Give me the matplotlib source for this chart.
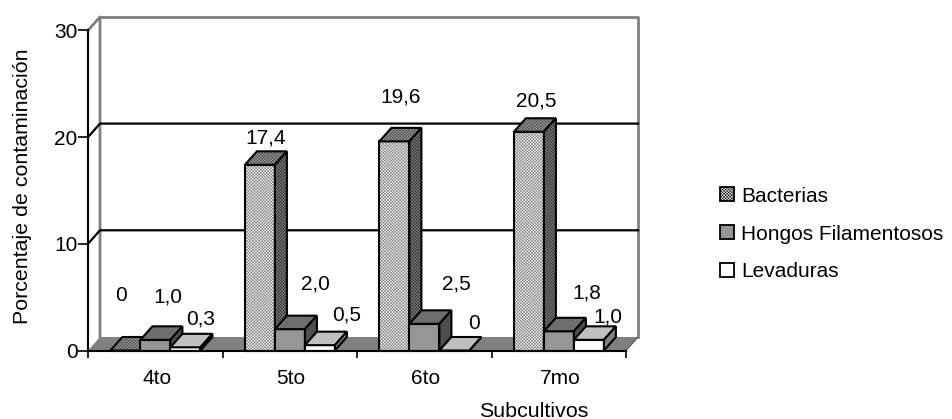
import matplotlib
matplotlib.use('Agg')
import matplotlib.pyplot as plt
from matplotlib.patches import Polygon, Patch

categories = ["4to", "5to", "6to", "7mo"]
series_names = ["Bacterias", "Hongos Filamentosos", "Levaduras"]
bacterias = [0, 17.4, 19.6, 20.5]
hongos = [1.0, 2.0, 2.5, 1.8]
levaduras = [0.3, 0.5, 0, 1.0]
yticks = [0, 10, 20, 30]

# label nudges from the top of each bar, in pixels (placed by hand in the original)
label_nudge = [
    [(-4, 55), (12, 43), (15, 28)],
    [(6, 27), (26, 45), (27, 30)],
    [(6, 44), (32, 40), (20, 27)],
    [(7, 31), (28, 38), (19, 23)],
]

plt.rcParams['font.family'] = ['Liberation Sans', 'DejaVu Sans']
plt.rcParams['hatch.linewidth'] = 0.35

W, H = 952, 419
CAT_PX = 134.5
UNIT_PX = 10.67
DX = 12 / CAT_PX        # 3d depth in data units
DY = 13.5 / UNIT_PX
BAR_W = 30 / CAT_PX
GAP = 22.4 / CAT_PX
FS = 15

fig = plt.figure(figsize=(W / 100, H / 100), dpi=100)
ax = fig.add_axes([88 / W, (H - 350.5) / H, (CAT_PX * 4 + 12) / W, (30 * UNIT_PX + 13.5) / H])
ax.set_xlim(0, 4 + DX)
ax.set_ylim(0, 30 + DY)
ax.patch.set_visible(False)

# walls and floor
ax.add_patch(Polygon([(0, 0), (4, 0), (4 + DX, DY), (DX, DY)], fc="#808080", ec="none", zorder=1))
ax.plot([0, DX, DX], [30, 30 + DY, DY], color="#808080", lw=2, zorder=1, clip_on=False)
ax.plot([DX, 4 + DX, 4 + DX], [30 + DY, 30 + DY, DY], color="#808080", lw=2, zorder=1, clip_on=False)
ax.plot([4, 4 + DX], [0, DY], color="#606060", lw=1, zorder=1)
for v in yticks[1:3]:
    ax.plot([0, DX, 4 + DX], [v, v + DY, v + DY], color="black", lw=1.6, zorder=1, clip_on=False)

# colours: front, top, side
styles = [
    dict(front="#f4f4f4", top="#a0a0a0", side="#808080", hatch="xxxxxxxxxxx", hc=("#707070", "#404040", "#2a2a2a")),
    dict(front="#969696", top="#6e6e6e", side="#4e4e4e", hatch=None, hc=None),
    dict(front="#ffffff", top="#c0c0c0", side="#808080", hatch=None, hc=None),
]


def face(pts, fc, hatch, hc, z):
    if hatch:
        ax.add_patch(Polygon(pts, fc=fc, ec=hc, hatch=hatch, lw=0, zorder=z, clip_on=False))
        ax.add_patch(Polygon(pts, fc="none", ec="black", lw=1.5, zorder=z, clip_on=False))
    else:
        ax.add_patch(Polygon(pts, fc=fc, ec="black", lw=1.5, zorder=z, clip_on=False))


z = 3
for i, cat in enumerate(categories):
    for s, vals in enumerate([bacterias, hongos, levaduras]):
        v = vals[i]
        st = styles[s]
        x0 = i + GAP + s * BAR_W
        x1 = x0 + BAR_W
        hc = st["hc"] or (None, None, None)
        face([(x0, 0), (x1, 0), (x1, v), (x0, v)], st["front"], st["hatch"], hc[0], z)
        face([(x0, v), (x1, v), (x1 + DX, v + DY), (x0 + DX, v + DY)], st["top"], st["hatch"], hc[1], z)
        face([(x1, 0), (x1 + DX, DY), (x1 + DX, v + DY), (x1, v)], st["side"], st["hatch"], hc[2], z)
        z += 1
        nx, ny = label_nudge[i][s]
        txt = "0" if v == 0 else f"{v:.1f}".replace(".", ",")
        ax.annotate(txt, xy=((x0 + x1) / 2, v), xytext=(nx * 0.72, ny * 0.72), textcoords="offset points",
                    ha="center", va="center", fontsize=FS, color="black", zorder=50, annotation_clip=False)

# axes
for spine in ["top", "right"]:
    ax.spines[spine].set_visible(False)
ax.spines["left"].set_bounds(0, 30)
ax.spines["bottom"].set_bounds(0, 4)
for spine in ["left", "bottom"]:
    ax.spines[spine].set_linewidth(1.5)
    ax.spines[spine].set_zorder(40)
ax.set_yticks(yticks)
ax.set_yticklabels([str(v) for v in yticks], fontsize=FS)
ax.set_xticks(range(5))
ax.set_xticklabels([])
ax.set_xticks([i + 0.51 for i in range(4)], minor=True)
ax.set_xticklabels(categories, minor=True, fontsize=FS)
ax.tick_params(axis="x", which="minor", length=0, pad=13)
ax.tick_params(axis="x", which="major", length=5, width=1.2)
ax.tick_params(axis="y", length=7, width=1.2, pad=0.5)

fig.text(23 / W, 1 - 186.5 / H, "Porcentaje de contaminación", rotation=90, ha="center", va="center", fontsize=15.4)
fig.text(534 / W, 1 - 411 / H, "Subcultivos", ha="center", va="center", fontsize=15.4)

handles = [
    Patch(fc="#eeeeee", ec="black", lw=1.3, hatch="xxxxxxxxxxx"),
    Patch(fc="#969696", ec="black", lw=1.3),
    Patch(fc="#ffffff", ec="black", lw=1.3),
]
fig.legend(handles, series_names, loc="center left", bbox_to_anchor=(720 / W, 1 - 234 / H), frameon=False,
           fontsize=FS, handlelength=0.65, handleheight=0.65, handletextpad=0.36, labelspacing=0.9,
           borderpad=0, borderaxespad=0)

plt.savefig("out.png", dpi=100)
